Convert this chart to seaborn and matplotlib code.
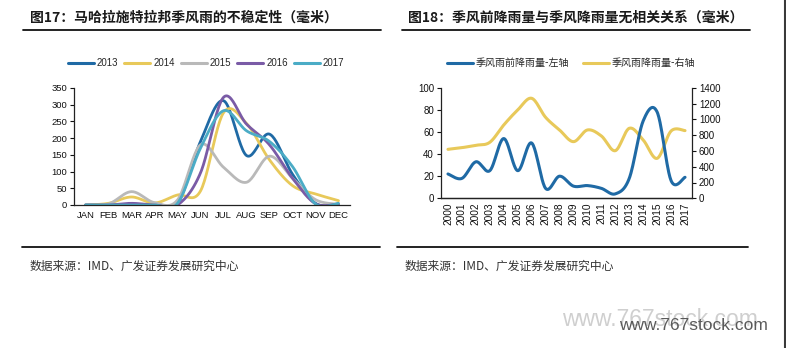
import numpy as np
import pandas as pd
import seaborn as sns
import matplotlib
matplotlib.use("Agg")
import matplotlib.pyplot as plt
from matplotlib.lines import Line2D

sns.set_theme(style="white")
plt.rcParams["font.family"] = ["Liberation Sans", "Noto Sans CJK SC", "DejaVu Sans"]
plt.rcParams["axes.unicode_minus"] = False

CJK = ["Noto Sans CJK SC", "DejaVu Sans"]

# ---- Fig.17: monthly monsoon rainfall in Maharashtra (mm) ----
months = ["JAN", "FEB", "MAR", "APR", "MAY", "JUN", "JUL", "AUG", "SEP", "OCT", "NOV", "DEC"]
rain_2013 = [0, 0, 2, 0, 3, 190, 312, 148, 212, 92, 5, 0]
rain_2014 = [0, 5, 24, 6, 30, 42, 276, 244, 135, 58, 33, 13]
rain_2015 = [0, 3, 40, 7, 15, 180, 113, 68, 146, 80, 16, 2]
rain_2016 = [0, 0, 5, 0, 0, 96, 322, 242, 180, 80, 4, 3]
rain_2017 = [0, 0, 0, 0, 5, 170, 282, 222, 190, 115, 3, 5]
years_left = ["2013", "2014", "2015", "2016", "2017"]
colors_left = ["#1F6AA5", "#E8C95A", "#B9B9B9", "#7A5BA6", "#4BACC6"]

# ---- Fig.18: pre-monsoon vs monsoon rainfall (mm) ----
years_right = [str(y) for y in range(2000, 2018)]
pre_monsoon = [22, 18, 33, 25, 54, 25, 50, 9, 20, 11, 11.5, 9, 4, 18, 70, 78, 16, 19]
monsoon = [620, 641, 671, 709, 928, 1118, 1266, 1025, 865, 717, 865, 789, 603, 886, 738, 506, 852, 857]


def smooth(xs, ys, n=24):
    """Bezier smoothing through every point (Catmull-Rom style tangents)."""
    xs = np.asarray(xs, float)
    ys = np.asarray(ys, float)
    px = np.concatenate([[xs[0]], xs, [xs[-1]]])
    py = np.concatenate([[ys[0]], ys, [ys[-1]]])
    out_x, out_y = [], []
    t = np.linspace(0, 1, n, endpoint=False)
    for i in range(1, len(px) - 2):
        p0 = np.array([px[i], py[i]])
        p3 = np.array([px[i + 1], py[i + 1]])
        p1 = p0 + (np.array([px[i + 1], py[i + 1]]) - np.array([px[i - 1], py[i - 1]])) / 6
        p2 = p3 - (np.array([px[i + 2], py[i + 2]]) - np.array([px[i], py[i]])) / 6
        b = ((1 - t) ** 3)[:, None] * p0 + (3 * (1 - t) ** 2 * t)[:, None] * p1 \
            + (3 * (1 - t) * t ** 2)[:, None] * p2 + (t ** 3)[:, None] * p3
        out_x.extend(b[:, 0])
        out_y.extend(b[:, 1])
    out_x.append(xs[-1])
    out_y.append(ys[-1])
    return np.array(out_x), np.array(out_y)


W, H = 786, 348
fig = plt.figure(figsize=(W / 100, H / 100), dpi=100)


def px_axes(x0, y0, x1, y1):
    return fig.add_axes([x0 / W, 1 - y1 / H, (x1 - x0) / W, (y1 - y0) / H])


def hline(x0, x1, y, lw=1.3):
    fig.add_artist(Line2D([x0 / W, x1 / W], [1 - y / H, 1 - y / H], color="#111111", lw=lw))


# titles and rules
fig.text(30 / W, 1 - 18 / H, "图17：马哈拉施特拉邦季风雨的不稳定性（毫米）", family=CJK,
         fontsize=10, fontweight="bold", color="#1a1a1a", va="center", ha="left")
fig.text(408 / W, 1 - 18 / H, "图18：季风前降雨量与季风降雨量无相关关系（毫米）", family=CJK,
         fontsize=10, fontweight="bold", color="#1a1a1a", va="center", ha="left")
hline(23, 381, 30)
hline(402, 750, 30)
hline(22, 380, 247)
hline(397, 748, 247)
fig.text(30 / W, 1 - 266 / H, "数据来源：IMD、广发证券发展研究中心", family=CJK,
         fontsize=8.5, color="#333333", va="center", ha="left")
fig.text(405 / W, 1 - 266 / H, "数据来源：IMD、广发证券发展研究中心", family=CJK,
         fontsize=8.5, color="#333333", va="center", ha="left")

# ---- left chart ----
ax1 = px_axes(74, 88, 350, 205)
rows = []
for yr, vals in zip(years_left, [rain_2013, rain_2014, rain_2015, rain_2016, rain_2017]):
    sx, sy = smooth(range(len(months)), vals)
    rows.append(pd.DataFrame({"x": sx, "y": sy, "year": yr}))
df1 = pd.concat(rows, ignore_index=True)
sns.lineplot(data=df1, x="x", y="y", hue="year", palette=colors_left, sort=False,
             estimator=None, lw=2.0, ax=ax1, legend=False)
ax1.set_xlim(-0.5, 11.5)
ax1.set_ylim(0, 350)
ax1.set_yticks(range(0, 351, 50))
ax1.set_xticks(range(12))
ax1.set_xticklabels(months)
ax1.set_xticks(np.arange(-0.5, 12, 1), minor=True)
ax1.set_xlabel("")
ax1.set_ylabel("")
for s in ["top", "right"]:
    ax1.spines[s].set_visible(False)
for s in ["left", "bottom"]:
    ax1.spines[s].set_color("#222222")
    ax1.spines[s].set_linewidth(0.9)
ax1.tick_params(axis="x", which="major", length=0, labelsize=6.8, pad=4, colors="#111111")
ax1.tick_params(axis="x", which="minor", length=3, width=0.8, color="#222222", direction="out")
ax1.tick_params(axis="y", length=3, width=0.8, labelsize=6.8, pad=2, colors="#111111",
                direction="out", left=True)

handles1 = [Line2D([], [], color=c, lw=2.2) for c in colors_left]
fig.legend(handles1, years_left, loc="center", bbox_to_anchor=(206 / W, 1 - 63 / H), ncol=5,
           frameon=False, fontsize=7, handlelength=2.7, handletextpad=0.3, columnspacing=0.6,
           borderpad=0, borderaxespad=0)

# ---- right chart ----
ax2 = px_axes(441, 87.7, 692, 198.3)
xr = np.arange(len(years_right))
sx, sy = smooth(xr, pre_monsoon)
sns.lineplot(x=sx, y=sy, color="#1F6AA5", lw=2.2, sort=False, estimator=None, ax=ax2)
ax3 = ax2.twinx()
sx, sy = smooth(xr, monsoon)
sns.lineplot(x=sx, y=sy, color="#E8C95A", lw=2.2, sort=False, estimator=None, ax=ax3)
ax2.set_zorder(ax3.get_zorder() + 1)
ax2.patch.set_visible(False)

ax2.set_xlim(-0.5, len(years_right) - 0.5)
ax2.set_ylim(0, 100)
ax3.set_ylim(0, 1400)
ax2.set_yticks(range(0, 101, 20))
ax3.set_yticks(range(0, 1401, 200))
ax2.set_xticks(xr)
ax2.set_xticklabels(years_right, rotation=90)
ax2.set_xticks(np.arange(-0.5, len(years_right), 1), minor=True)
for a in (ax2, ax3):
    a.set_xlabel("")
    a.set_ylabel("")
    a.spines["top"].set_visible(False)
    for s in ["left", "right", "bottom"]:
        a.spines[s].set_color("#222222")
        a.spines[s].set_linewidth(0.9)
ax2.spines["right"].set_visible(False)
ax3.spines["left"].set_visible(False)
ax2.tick_params(axis="x", which="major", length=0, labelsize=7.3, pad=3, colors="#111111")
ax2.tick_params(axis="x", which="minor", length=3, width=0.8, color="#222222", direction="out")
ax2.tick_params(axis="y", length=3, width=0.8, labelsize=7, pad=2, colors="#111111",
                direction="out", left=True)
ax3.tick_params(axis="y", length=3, width=0.8, labelsize=7, pad=2, colors="#111111",
                direction="out", right=True)

handles2 = [Line2D([], [], color="#1F6AA5", lw=2.2), Line2D([], [], color="#E8C95A", lw=2.2)]
fig.legend(handles2, ["季风雨前降雨量-左轴", "季风雨降雨量-右轴"], loc="center",
           bbox_to_anchor=(571 / W, 1 - 63 / H), ncol=2, frameon=False,
           prop={"family": CJK, "size": 7.2}, handlelength=2.6, handletextpad=0.3,
           columnspacing=1.4, borderpad=0, borderaxespad=0)

# site watermark and right border
fig.text(562 / W, 1 - 320 / H, "www.767stock.com", fontsize=16.5, color="#CFCFCF",
         va="center", ha="left", family=["Liberation Sans", "DejaVu Sans"])
fig.text(619 / W, 1 - 325 / H, "www.767stock.com", fontsize=12.5, color="#5A5A5A",
         va="center", ha="left", family=["Liberation Sans", "DejaVu Sans"])
fig.add_artist(Line2D([784.5 / W, 784.5 / W], [0, 1], color="#3A3A3A", lw=1.5))

fig.savefig("out.png", dpi=100)
